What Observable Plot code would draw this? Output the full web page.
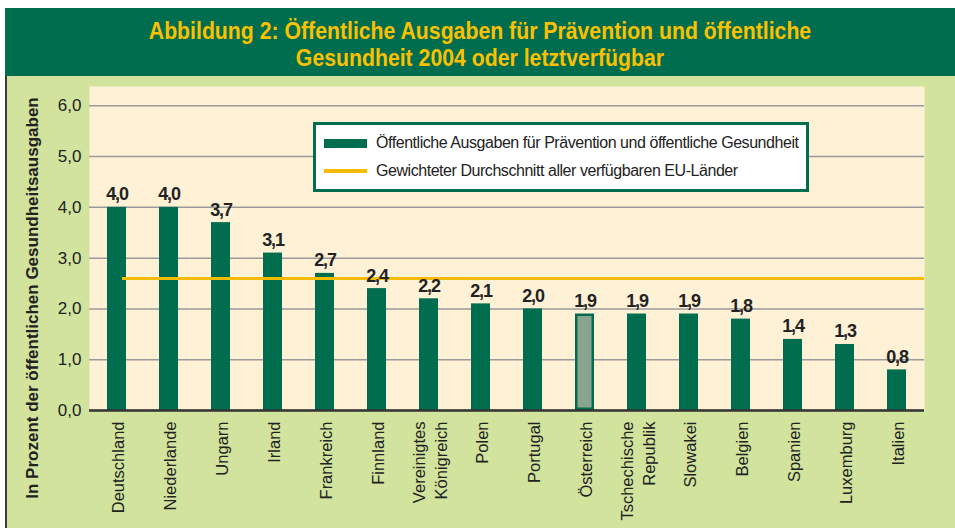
<!DOCTYPE html>
<html>
<head>
<meta charset="utf-8">
<script src="https://cdn.jsdelivr.net/npm/d3@7"></script>
<script src="https://cdn.jsdelivr.net/npm/@observablehq/plot@0.6"></script>
<style>
  body { margin: 0; background: #ffffff; }
  #wrap { position: relative; width: 955px; height: 528px; overflow: hidden; font-family: "Liberation Sans", Arial, sans-serif; }
  #banner { position: absolute; left: 5px; top: 8px; width: 950px; height: 68px; background: #006e4e; color: #fcc000;
    font-weight: bold; font-size: 24px; text-align: center; line-height: 27px; padding-top: 9px; box-sizing: border-box; }
  #banner div { display: block; transform: scaleX(0.885); transform-origin: center; white-space: nowrap; }
  #panel { position: absolute; left: 5px; top: 76px; width: 950px; height: 452px; background: #d1e39d; border-left: 2px solid #3a3a3a; box-sizing: border-box; }
  #chart { position: absolute; left: 0; top: 75px; }
  #chart g[aria-label="text"] text { letter-spacing: -1.1px; }
  #ylabel { position: absolute; left: 33px; top: 298px; transform: translate(-50%, -50%) rotate(-90deg); white-space: nowrap;
    font-weight: bold; font-size: 17px; color: #222; }
  #legend { position: absolute; left: 313px; top: 122px; width: 496px; height: 70px; background: #ffffff; border: 3px solid #006e4e; box-sizing: border-box; font-size: 16px; letter-spacing: -0.45px; color: #222; }
  .item { position: absolute; left: 8px; display: flex; align-items: center; white-space: nowrap; }
  .sw { width: 43px; margin-right: 9px; }
</style>
</head>
<body>
<div id="wrap">
  <div id="banner"></div>
  <div id="panel"></div>
  <div id="chart"></div>
  <div id="ylabel"></div>
  <div id="legend"></div>
</div>
<script>
const titleLines = ["Abbildung 2: Öffentliche Ausgaben für Prävention und öffentliche", "Gesundheit 2004 oder letztverfügbar"];
const yTitle = "In Prozent der öffentlichen Gesundheitsausgaben";
const countries = ["Deutschland", "Niederlande", "Ungarn", "Irland", "Frankreich", "Finnland", "Vereinigtes\nKönigreich", "Polen", "Portugal", "Österreich", "Tschechische\nRepublik", "Slowakei", "Belgien", "Spanien", "Luxemburg", "Italien"];
const values = [4.0, 4.0, 3.7, 3.1, 2.7, 2.4, 2.2, 2.1, 2.0, 1.9, 1.9, 1.9, 1.8, 1.4, 1.3, 0.8];
const highlight = ["Österreich"];
const euAverage = 2.6;
const yTicks = [0, 1, 2, 3, 4, 5, 6];
const legendLabels = ["Öffentliche Ausgaben für Prävention und öffentliche Gesundheit", "Gewichteter Durchschnitt aller verfügbaren EU-Länder"];

const green = "#006e4e", avgColor = "#f7bb00", cream = "#fff1d6", hiFill = "#8aa58f";
const fmt = d => d.toFixed(1).replace(".", ",");
const data = countries.map((c, i) => ({country: c, value: values[i], hi: highlight.includes(c)}));

document.getElementById("banner").innerHTML = titleLines.map(t => `<div>${t}</div>`).join("");
document.getElementById("ylabel").textContent = yTitle;
document.getElementById("legend").innerHTML =
  `<div class="item" style="top:9px"><div class="sw" style="height:9px;background:${green}"></div>${legendLabels[0]}</div>` +
  `<div class="item" style="top:37px"><div class="sw" style="height:4px;background:${avgColor}"></div>${legendLabels[1]}</div>`;

const chart = Plot.plot({
  width: 955,
  height: 453,
  marginTop: 11,
  marginBottom: 118,
  marginLeft: 89,
  marginRight: 31,
  style: {background: "transparent", fontFamily: "Liberation Sans, Arial, sans-serif", fontSize: "16px", color: "#222"},
  x: {domain: countries, paddingInner: 0.64, paddingOuter: 0.27},
  y: {domain: [0, 6.38]},
  marks: [
    Plot.frame({fill: cream, stroke: null}),
    Plot.gridY(yTicks, {stroke: "#9a9a9a", strokeOpacity: 1, strokeWidth: 1.5}),
    Plot.barY(data.filter(d => !d.hi), {x: "country", y: "value", fill: green}),
    Plot.barY(data.filter(d => d.hi), {x: "country", y: "value", fill: hiFill, stroke: green, strokeWidth: 2.5, inset: 1.25}),
    Plot.ruleY([euAverage], {stroke: avgColor, strokeWidth: 3, insetLeft: 33}),
    Plot.text(data, {x: "country", y: "value", text: d => fmt(d.value), lineAnchor: "bottom", dy: -7,
      fontWeight: "bold", fontSize: 18, fill: "#222"}),
    Plot.ruleY([0], {stroke: "#333", strokeWidth: 2.5}),
    Plot.axisY({ticks: yTicks, tickFormat: fmt, tickSize: 0, tickPadding: 8, label: null, fontSize: 17, line: true, stroke: "#333", strokeWidth: 2.5}),
    Plot.axisX({tickRotate: -90, tickSize: 0, tickPadding: 11, label: null, fontSize: 16.5, lineHeight: 1.35})
  ]
});
document.getElementById("chart").appendChild(chart);
</script>
</body>
</html>
